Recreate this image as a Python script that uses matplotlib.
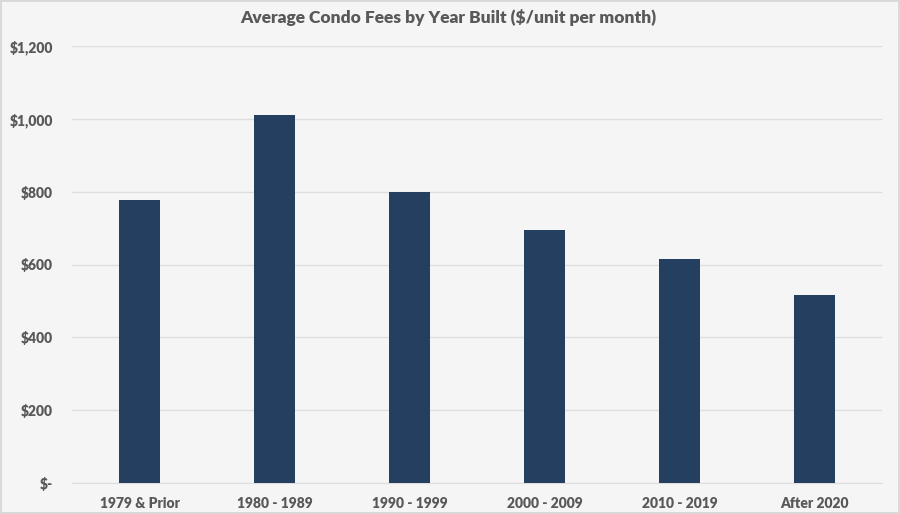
import matplotlib
matplotlib.use("Agg")
import matplotlib.pyplot as plt
from matplotlib.ticker import FuncFormatter

categorias = ["1979 & Prior", "1980 - 1989", "1990 - 1999", "2000 - 2009", "2010 - 2019", "After 2020"]
taxas = [777, 1011, 799, 694, 615, 517]
ticks_y = [0, 200, 400, 600, 800, 1000, 1200]

plt.rcParams['font.family'] = ['Lato', 'DejaVu Sans']

def formato_dolar(v, pos):
    if v == 0:
        return "$-"
    return f"${v:,.0f}"

fig = plt.figure(figsize=(9, 5.14), dpi=100, facecolor='#f5f5f5',
                 edgecolor='#d9d9d9', linewidth=1.5)
ax = fig.add_axes([72/900, 1 - 483/514, 810/900, 437/514])
ax.set_facecolor('#f5f5f5')

x = list(range(len(categorias)))
ax.bar(x, taxas, width=0.31, color='#243f60', zorder=3)

ax.set_xlim(-0.5, len(categorias) - 0.5)
ax.set_ylim(0, 1200)
ax.set_yticks(ticks_y)
ax.yaxis.set_major_formatter(FuncFormatter(formato_dolar))
ax.set_xticks(x)
ax.set_xticklabels(categorias)
ax.grid(axis='y', color='#dedede', linewidth=1, zorder=0)

for lado in ['top', 'right', 'left']:
    ax.spines[lado].set_visible(False)
ax.spines['bottom'].set_color('#dedede')
ax.tick_params(axis='both', length=0, labelcolor='#595959', labelsize=10)
ax.tick_params(axis='x', pad=10)
ax.tick_params(axis='y', pad=13.5)
for lbl in ax.get_xticklabels() + ax.get_yticklabels():
    lbl.set_fontweight('heavy')

fig.text(0.498, 1 - 18/514, "Average Condo Fees by Year Built ($/unit per month)",
         ha='center', va='center', fontsize=12.5, fontweight='heavy', color='#595959')

fig.savefig("out.png", dpi=100, facecolor=fig.get_facecolor(), edgecolor=fig.get_edgecolor())
